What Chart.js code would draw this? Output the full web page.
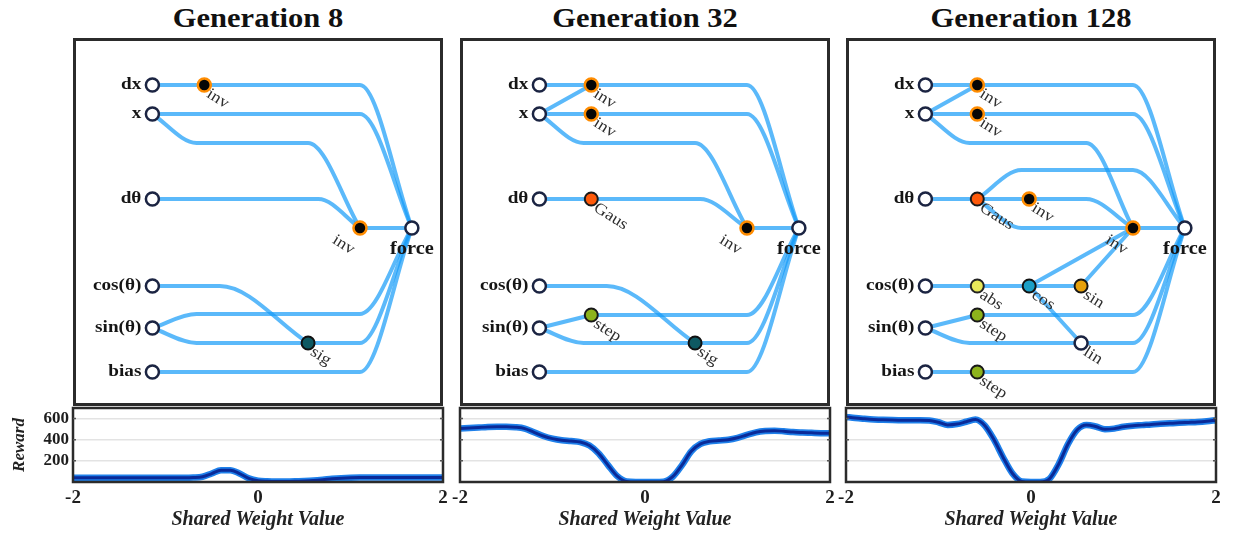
<!DOCTYPE html>
<html>
<head>
<meta charset="utf-8">
<script src="https://cdn.jsdelivr.net/npm/chart.js@4.4.1/dist/chart.umd.min.js"></script>
<style>
  html, body { margin: 0; padding: 0; background: #ffffff; }
  #stage { position: relative; width: 1234px; height: 533px; overflow: hidden; }
  .gen-title {
    position: absolute; top: 3px; width: 370px; text-align: center;
    font: bold 27px/30px "Liberation Serif", "Times New Roman", serif; color: #111;
    transform: scaleX(1.13); transform-origin: center;
  }
  canvas { position: absolute; }
</style>
</head>
<body>
<div id="stage"></div>
<script>
// ---------- data ----------
const panelTitles = ['Generation 8', 'Generation 32', 'Generation 128'];

// shared weight sweep (x values of every reward curve)
const sharedWeights = [
  -2.0, -1.9, -1.8, -1.7, -1.6, -1.5, -1.4, -1.3, -1.2, -1.1,
  -1.0, -0.9, -0.8, -0.7, -0.6, -0.5, -0.4, -0.3, -0.2, -0.1,
   0.0,  0.1,  0.2,  0.3,  0.4,  0.5,  0.6,  0.7,  0.8,  0.9,
   1.0,  1.1,  1.2,  1.3,  1.4,  1.5,  1.6,  1.7,  1.8,  1.9, 2.0
];
const rewardGen8 = [
   40,  40,  40,  40,  40,  40,  40,  40,  40,  40,
   40,  40,  40,  42,  50,  80, 112, 112,  80,  35,
   12,   6,   4,   4,   6,  10,  15,  22,  30,  36,
   40,  42,  42,  42,  42,  42,  42,  42,  42,  42, 42
];
const rewardGen32 = [
  505, 510, 515, 520, 522, 522, 518, 505, 470, 435,
  410, 395, 388, 378, 345, 270, 160,  55,   5,   0,
    0,   0,   3,  50, 160, 290, 360, 385, 393, 400,
  418, 445, 470, 482, 485, 480, 472, 468, 465, 462, 460
];
const rewardGen128 = [
  615, 605, 598, 592, 588, 586, 585, 584, 584, 582,
  565, 540, 548, 570, 592, 535, 400, 230,  80,   5,
    0,   0,  30, 170, 360, 495, 540, 525, 498, 505,
  522, 532, 538, 545, 550, 555, 560, 564, 568, 575, 585
];
const rewardTicks = [200, 400, 600];
const weightTicks = [-2, 0, 2];

// network nodes: [id, kind, column, row, label]
const gen8Nodes = [
  ['dx', 'input', 0, 47, 'dx'], ['x', 'input', 0, 76, 'x'], ['dth', 'input', 0, 161, 'dθ'],
  ['cos', 'input', 0, 248, 'cos(θ)'], ['sin', 'input', 0, 290, 'sin(θ)'], ['bias', 'input', 0, 334, 'bias'],
  ['h1', 'inv', 1, 47], ['h2', 'sig', 3, 305], ['h3', 'inv', 4, 190],
  ['force', 'output', 5, 190, 'force']
];
// edges: [from, to, lane row, column where the lane ends]
const gen8Edges = [
  ['dx', 'h1'], ['h1', 'force', 47, 4], ['x', 'force', 76, 4], ['x', 'h3', 105, 3],
  ['dth', 'h3', 161, 3.2], ['h3', 'force'], ['cos', 'h2', 248, 1.3],
  ['sin', 'force', 276, 4], ['sin', 'h2', 305], ['h2', 'force', 305, 4], ['bias', 'force', 334, 4]
];

const gen32Nodes = [
  ['dx', 'input', 0, 47, 'dx'], ['x', 'input', 0, 76, 'x'], ['dth', 'input', 0, 161, 'dθ'],
  ['cos', 'input', 0, 248, 'cos(θ)'], ['sin', 'input', 0, 290, 'sin(θ)'], ['bias', 'input', 0, 334, 'bias'],
  ['h1', 'inv', 1, 47], ['h2', 'inv', 1, 76], ['h3', 'Gaus', 1, 161], ['h4', 'step', 1, 277],
  ['h5', 'sig', 3, 305], ['h6', 'inv', 4, 190],
  ['force', 'output', 5, 190, 'force']
];
const gen32Edges = [
  ['dx', 'h1'], ['x', 'h1'], ['x', 'h2'], ['h1', 'force', 47, 4], ['h2', 'force', 76, 4],
  ['x', 'h6', 105, 3], ['dth', 'h3'], ['h3', 'h6', 161, 3.1], ['h6', 'force'],
  ['cos', 'h5', 248, 1.3], ['sin', 'h4'], ['h4', 'force', 277, 4],
  ['sin', 'h5', 305], ['h5', 'force', 305, 4], ['bias', 'force', 334, 4]
];

const gen128Nodes = [
  ['dx', 'input', 0, 47, 'dx'], ['x', 'input', 0, 76, 'x'], ['dth', 'input', 0, 161, 'dθ'],
  ['cos', 'input', 0, 248, 'cos(θ)'], ['sin', 'input', 0, 290, 'sin(θ)'], ['bias', 'input', 0, 334, 'bias'],
  ['h1', 'inv', 1, 47], ['h2', 'inv', 1, 76], ['h3', 'Gaus', 1, 161], ['h4', 'abs', 1, 248],
  ['h5', 'step', 1, 277], ['h6', 'step', 1, 334], ['h7', 'inv', 2, 161], ['h8', 'cos', 2, 248],
  ['h9', 'sin', 3, 248], ['h10', 'lin', 3, 305], ['h11', 'inv', 4, 190],
  ['force', 'output', 5, 190, 'force']
];
const gen128Edges = [
  ['dx', 'h1'], ['x', 'h1'], ['x', 'h2'], ['h1', 'force', 47, 4], ['h2', 'force', 76, 4],
  ['x', 'h11', 105, 3.1], ['dth', 'h3'], ['h3', 'force', 132, 4], ['h3', 'h7'],
  ['h7', 'h11', 161, 3.1], ['h3', 'h11', 190], ['h11', 'force'],
  ['cos', 'h4'], ['h4', 'h8'], ['h8', 'h9'], ['h8', 'h11'], ['h9', 'h11'], ['h8', 'h10'],
  ['sin', 'h5'], ['h5', 'force', 277, 4], ['sin', 'h10', 305], ['h10', 'force', 305, 4],
  ['bias', 'h6'], ['h6', 'force', 334, 4]
];

// ---------- styling ----------
const SERIF = '"Liberation Serif", "Times New Roman", serif';
const TEXT_STRETCH = 1.13;
const EDGE_COLOR = 'rgba(22, 155, 248, 0.70)';
const nodeStyle = {
  input:  { fill: '#ffffff', stroke: '#1b2442', width: 2.5 },
  output: { fill: '#ffffff', stroke: '#1b2442', width: 2.5 },
  lin:    { fill: '#ffffff', stroke: '#1b2442', width: 2.5 },
  inv:    { fill: '#060606', stroke: '#ff8c00', width: 2.5 },
  Gaus:   { fill: '#ff5a0a', stroke: '#1a1a1a', width: 2 },
  sig:    { fill: '#0e5962', stroke: '#101010', width: 2 },
  step:   { fill: '#8db31c', stroke: '#181818', width: 2 },
  abs:    { fill: '#e8e85a', stroke: '#222222', width: 2 },
  cos:    { fill: '#1c9fc6', stroke: '#111111', width: 2 },
  sin:    { fill: '#e6a10c', stroke: '#161616', width: 2 }
};

// ---------- layout ----------
const panelLeft = [73, 460, 846];
const BOX_W = 370;
const NET_TOP = 38, NET_H = 368;
const REWARD_TOP = 408, REWARD_BOTTOM = 482;
const stage = document.getElementById('stage');

function makeCanvas(left, top, w, h) {
  const c = document.createElement('canvas');
  c.width = w; c.height = h;
  c.style.left = left + 'px'; c.style.top = top + 'px';
  c.style.width = w + 'px'; c.style.height = h + 'px';
  stage.appendChild(c);
  return c;
}

// ---------- network diagrams ----------
function toNode(n) {
  return { id: n[0], kind: n[1], col: n[2], row: n[3], label: n[4] !== undefined ? n[4] : n[1] };
}

// edge route: bend from the source into its lane, run along it, then bend into the target
function edgeRoute(a, b, lane, laneEnd) {
  const pts = [{ x: a.col, y: a.row }];
  if (lane !== undefined) {
    if (lane !== a.row) pts.push({ x: a.col + 0.85, y: lane });
    const last = pts[pts.length - 1];
    if (laneEnd !== undefined && laneEnd > last.x) pts.push({ x: laneEnd, y: lane });
  }
  pts.push({ x: b.col, y: b.row });
  return pts;
}

const networkFrame = {
  id: 'networkFrame',
  afterDraw(chart) {
    const { ctx, width, height } = chart;
    ctx.save();
    ctx.strokeStyle = '#2b2b2b';
    ctx.lineWidth = 3;
    ctx.strokeRect(1.5, 1.5, width - 3, height - 3);
    ctx.restore();
  }
};

const nodeLabels = {
  id: 'nodeLabels',
  afterDatasetsDraw(chart, args, opts) {
    const { ctx, scales: { x, y } } = chart;
    const outCol = Math.max(...opts.nodes.map(n => n.col));
    opts.nodes.forEach(n => {
      const px = x.getPixelForValue(n.col);
      const py = y.getPixelForValue(n.row);
      ctx.save();
      ctx.fillStyle = '#151515';
      if (n.kind === 'input') {
        ctx.translate(px - 11, py);
        ctx.scale(TEXT_STRETCH, 1);
        ctx.font = 'bold 17px ' + SERIF;
        ctx.textAlign = 'right';
        ctx.textBaseline = 'middle';
        ctx.fillText(n.label, 0, 0);
      } else if (n.kind === 'output') {
        ctx.translate(px, py + 21);
        ctx.scale(TEXT_STRETCH, 1);
        ctx.font = 'bold 18px ' + SERIF;
        ctx.textAlign = 'center';
        ctx.textBaseline = 'middle';
        ctx.fillText(n.label, 0, 0);
      } else {
        const beforeOut = n.col === outCol - 1;
        ctx.translate(px + (beforeOut ? -22 : 8), py + (beforeOut ? 4 : 1));
        ctx.rotate(32 * Math.PI / 180);
        ctx.scale(TEXT_STRETCH, 1);
        ctx.font = '16px ' + SERIF;
        ctx.fillStyle = '#2e2e2e';
        ctx.textAlign = 'left';
        ctx.textBaseline = 'top';
        ctx.fillText(n.label, 0, 0);
      }
      ctx.restore();
    });
  }
};

function networkChart(panel, nodeRows, edgeRows) {
  const nodes = nodeRows.map(toNode);
  const byId = Object.fromEntries(nodes.map(n => [n.id, n]));
  const edgeSets = edgeRows.map(e => ({
    type: 'line',
    data: edgeRoute(byId[e[0]], byId[e[1]], e[2], e[3]),
    showLine: true,
    borderColor: EDGE_COLOR,
    borderWidth: 4,
    borderCapStyle: 'round',
    pointRadius: 0,
    cubicInterpolationMode: 'monotone',
    fill: false,
    order: 1
  }));
  const nodeSet = {
    type: 'scatter',
    data: nodes.map(n => ({ x: n.col, y: n.row })),
    pointRadius: 6.5,
    pointBackgroundColor: nodes.map(n => nodeStyle[n.kind].fill),
    pointBorderColor: nodes.map(n => nodeStyle[n.kind].stroke),
    pointBorderWidth: nodes.map(n => nodeStyle[n.kind].width),
    order: 0
  };
  const canvas = makeCanvas(panelLeft[panel], NET_TOP, BOX_W, NET_H);
  return new Chart(canvas, {
    type: 'scatter',
    data: { datasets: [nodeSet, ...edgeSets] },
    options: {
      responsive: false, animation: false, events: [],
      layout: { padding: 0, autoPadding: false },
      plugins: { legend: { display: false }, tooltip: { enabled: false }, nodeLabels: { nodes } },
      scales: {
        x: { type: 'linear', display: false, min: -1.53, max: 5.6 },
        y: { type: 'linear', display: false, reverse: true, min: 0, max: NET_H }
      }
    },
    plugins: [nodeLabels, networkFrame]
  });
}

// ---------- reward curves ----------
const rewardFrame = {
  id: 'rewardFrame',
  afterDraw(chart) {
    const { ctx, chartArea: a } = chart;
    ctx.save();
    ctx.strokeStyle = '#2b2b2b';
    ctx.lineWidth = 2.5;
    ctx.strokeRect(a.left, a.top, a.right - a.left, a.bottom - a.top);
    // small inner tick marks on both side borders
    const ys = chart.scales.y;
    ctx.lineWidth = 1.5;
    ctx.strokeStyle = '#555';
    rewardTicks.forEach(v => {
      const py = ys.getPixelForValue(v);
      ctx.beginPath();
      ctx.moveTo(a.left, py); ctx.lineTo(a.left + 3, py);
      ctx.moveTo(a.right, py); ctx.lineTo(a.right - 3, py);
      ctx.stroke();
    });
    ctx.restore();
  }
};

function rewardChart(panel, values, first) {
  const padL = 70, padR = 20, top = 398, h = 135;
  const canvas = makeCanvas(panelLeft[panel] - padL, top, BOX_W + padL + padR, h);
  const pts = sharedWeights.map((w, i) => ({ x: w, y: values[i] }));
  return new Chart(canvas, {
    type: 'line',
    data: {
      datasets: [
        { data: pts, borderColor: '#0a2a98', borderWidth: 3, pointRadius: 0,
          cubicInterpolationMode: 'monotone', order: 0 },
        { data: pts, borderColor: '#1f80ea', borderWidth: 6.5, pointRadius: 0,
          cubicInterpolationMode: 'monotone', order: 1 }
      ]
    },
    options: {
      responsive: false, animation: false, events: [],
      layout: { padding: { top: REWARD_TOP - top, right: padR, left: 0, bottom: 0 }, autoPadding: false },
      plugins: { legend: { display: false }, tooltip: { enabled: false } },
      scales: {
        x: {
          type: 'linear', min: -2, max: 2,
          afterBuildTicks: s => { s.ticks = weightTicks.map(v => ({ value: v })); },
          grid: { display: false, drawTicks: false },
          border: { display: false },
          ticks: { color: '#1e1e1e', padding: 5, maxRotation: 0,
                   font: { family: SERIF, size: 19, weight: 'bold' } },
          title: { display: true, text: 'Shared Weight Value', color: '#222',
                   font: { family: SERIF, size: 20, weight: 'bold', style: 'italic' },
                   padding: { top: 0, bottom: 1 } },
          afterFit: s => { s.height = top + h - REWARD_BOTTOM; s.paddingLeft = 0; s.paddingRight = 0; }
        },
        y: {
          type: 'linear', min: 0, max: 700,
          afterBuildTicks: s => { s.ticks = rewardTicks.map(v => ({ value: v })); },
          grid: { color: '#e3e3e3', lineWidth: 1.5, drawTicks: false },
          border: { display: false },
          ticks: { display: first, color: '#1e1e1e', padding: 4,
                   font: { family: SERIF, size: 17, weight: 'bold' } },
          title: { display: first, text: 'Reward', color: '#222',
                   font: { family: SERIF, size: 17, weight: 'bold', style: 'italic' },
                   padding: { top: 6, bottom: 0 } },
          afterFit: s => { s.width = padL; s.paddingTop = 0; s.paddingBottom = 0; }
        }
      }
    },
    plugins: [rewardFrame]
  });
}

// ---------- titles ----------
panelTitles.forEach((t, i) => {
  const d = document.createElement('div');
  d.className = 'gen-title';
  d.style.left = panelLeft[i] + 'px';
  d.textContent = t;
  stage.appendChild(d);
});

networkChart(0, gen8Nodes, gen8Edges);
networkChart(1, gen32Nodes, gen32Edges);
networkChart(2, gen128Nodes, gen128Edges);
rewardChart(0, rewardGen8, true);
rewardChart(1, rewardGen32, false);
rewardChart(2, rewardGen128, false);
</script>
</body>
</html>
